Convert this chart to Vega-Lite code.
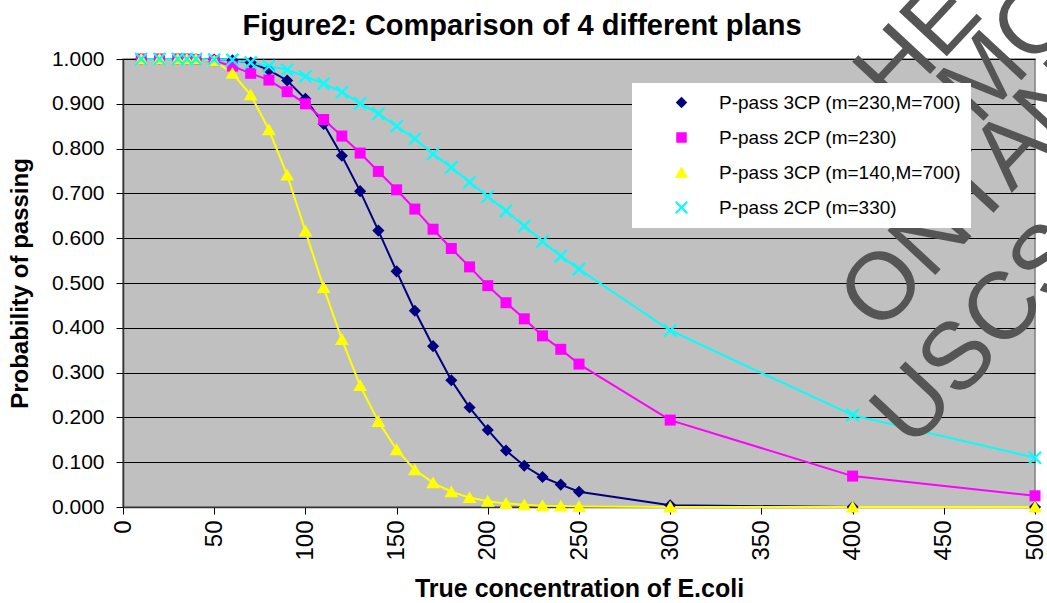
{
  "$schema": "https://vega.github.io/schema/vega-lite/v6.json",
  "width": 912,
  "height": 448,
  "autosize": {"type": "none"},
  "padding": {"left": 123, "top": 59, "right": 12, "bottom": 96},
  "background": "#ffffff",
  "title": {"text": "Figure2: Comparison of 4 different plans", "fontSize": 29, "fontWeight": "bold", "font": "Liberation Sans", "color": "#000000", "anchor": "middle", "dx": -57, "offset": -135},
  "config": {
    "font": "Liberation Sans",
    "view": {"fill": "#C0C0C0", "stroke": "#808080", "strokeWidth": 1.5},
    "axis": {"labelColor": "#000000", "titleColor": "#000000", "tickColor": "#000000", "domainColor": "#333333", "domainWidth": 1.5, "labelFont": "Liberation Sans", "titleFont": "Liberation Sans", "titleFontWeight": "bold", "labelFlush": false, "labelOverlap": false}
  },
  "layer": [
    {
      "data": {"values": [
        {"c":10,"p":1.000,"s":"P-pass 3CP (m=230,M=700)"},{"c":20,"p":1.000,"s":"P-pass 3CP (m=230,M=700)"},{"c":30,"p":1.000,"s":"P-pass 3CP (m=230,M=700)"},{"c":35,"p":1.000,"s":"P-pass 3CP (m=230,M=700)"},{"c":40,"p":1.000,"s":"P-pass 3CP (m=230,M=700)"},{"c":50,"p":0.999,"s":"P-pass 3CP (m=230,M=700)"},{"c":60,"p":0.997,"s":"P-pass 3CP (m=230,M=700)"},{"c":70,"p":0.992,"s":"P-pass 3CP (m=230,M=700)"},{"c":80,"p":0.975,"s":"P-pass 3CP (m=230,M=700)"},{"c":90,"p":0.952,"s":"P-pass 3CP (m=230,M=700)"},{"c":100,"p":0.911,"s":"P-pass 3CP (m=230,M=700)"},{"c":110,"p":0.855,"s":"P-pass 3CP (m=230,M=700)"},{"c":120,"p":0.784,"s":"P-pass 3CP (m=230,M=700)"},{"c":130,"p":0.705,"s":"P-pass 3CP (m=230,M=700)"},{"c":140,"p":0.617,"s":"P-pass 3CP (m=230,M=700)"},{"c":150,"p":0.526,"s":"P-pass 3CP (m=230,M=700)"},{"c":160,"p":0.438,"s":"P-pass 3CP (m=230,M=700)"},{"c":170,"p":0.359,"s":"P-pass 3CP (m=230,M=700)"},{"c":180,"p":0.283,"s":"P-pass 3CP (m=230,M=700)"},{"c":190,"p":0.222,"s":"P-pass 3CP (m=230,M=700)"},{"c":200,"p":0.172,"s":"P-pass 3CP (m=230,M=700)"},{"c":210,"p":0.126,"s":"P-pass 3CP (m=230,M=700)"},{"c":220,"p":0.092,"s":"P-pass 3CP (m=230,M=700)"},{"c":230,"p":0.067,"s":"P-pass 3CP (m=230,M=700)"},{"c":240,"p":0.050,"s":"P-pass 3CP (m=230,M=700)"},{"c":250,"p":0.034,"s":"P-pass 3CP (m=230,M=700)"},{"c":300,"p":0.004,"s":"P-pass 3CP (m=230,M=700)"},{"c":400,"p":0.000,"s":"P-pass 3CP (m=230,M=700)"},{"c":500,"p":0.000,"s":"P-pass 3CP (m=230,M=700)"},
        {"c":10,"p":1.000,"s":"P-pass 2CP (m=230)"},{"c":20,"p":1.000,"s":"P-pass 2CP (m=230)"},{"c":30,"p":1.000,"s":"P-pass 2CP (m=230)"},{"c":35,"p":1.000,"s":"P-pass 2CP (m=230)"},{"c":40,"p":0.999,"s":"P-pass 2CP (m=230)"},{"c":50,"p":0.996,"s":"P-pass 2CP (m=230)"},{"c":60,"p":0.984,"s":"P-pass 2CP (m=230)"},{"c":70,"p":0.968,"s":"P-pass 2CP (m=230)"},{"c":80,"p":0.953,"s":"P-pass 2CP (m=230)"},{"c":90,"p":0.927,"s":"P-pass 2CP (m=230)"},{"c":100,"p":0.900,"s":"P-pass 2CP (m=230)"},{"c":110,"p":0.865,"s":"P-pass 2CP (m=230)"},{"c":120,"p":0.828,"s":"P-pass 2CP (m=230)"},{"c":130,"p":0.790,"s":"P-pass 2CP (m=230)"},{"c":140,"p":0.749,"s":"P-pass 2CP (m=230)"},{"c":150,"p":0.708,"s":"P-pass 2CP (m=230)"},{"c":160,"p":0.665,"s":"P-pass 2CP (m=230)"},{"c":170,"p":0.620,"s":"P-pass 2CP (m=230)"},{"c":180,"p":0.577,"s":"P-pass 2CP (m=230)"},{"c":190,"p":0.536,"s":"P-pass 2CP (m=230)"},{"c":200,"p":0.494,"s":"P-pass 2CP (m=230)"},{"c":210,"p":0.456,"s":"P-pass 2CP (m=230)"},{"c":220,"p":0.420,"s":"P-pass 2CP (m=230)"},{"c":230,"p":0.382,"s":"P-pass 2CP (m=230)"},{"c":240,"p":0.352,"s":"P-pass 2CP (m=230)"},{"c":250,"p":0.319,"s":"P-pass 2CP (m=230)"},{"c":300,"p":0.194,"s":"P-pass 2CP (m=230)"},{"c":400,"p":0.069,"s":"P-pass 2CP (m=230)"},{"c":500,"p":0.025,"s":"P-pass 2CP (m=230)"},
        {"c":10,"p":1.000,"s":"P-pass 3CP (m=140,M=700)"},{"c":20,"p":1.000,"s":"P-pass 3CP (m=140,M=700)"},{"c":30,"p":1.000,"s":"P-pass 3CP (m=140,M=700)"},{"c":35,"p":1.000,"s":"P-pass 3CP (m=140,M=700)"},{"c":40,"p":1.000,"s":"P-pass 3CP (m=140,M=700)"},{"c":50,"p":0.996,"s":"P-pass 3CP (m=140,M=700)"},{"c":60,"p":0.968,"s":"P-pass 3CP (m=140,M=700)"},{"c":70,"p":0.920,"s":"P-pass 3CP (m=140,M=700)"},{"c":80,"p":0.842,"s":"P-pass 3CP (m=140,M=700)"},{"c":90,"p":0.741,"s":"P-pass 3CP (m=140,M=700)"},{"c":100,"p":0.616,"s":"P-pass 3CP (m=140,M=700)"},{"c":110,"p":0.490,"s":"P-pass 3CP (m=140,M=700)"},{"c":120,"p":0.374,"s":"P-pass 3CP (m=140,M=700)"},{"c":130,"p":0.271,"s":"P-pass 3CP (m=140,M=700)"},{"c":140,"p":0.191,"s":"P-pass 3CP (m=140,M=700)"},{"c":150,"p":0.128,"s":"P-pass 3CP (m=140,M=700)"},{"c":160,"p":0.083,"s":"P-pass 3CP (m=140,M=700)"},{"c":170,"p":0.054,"s":"P-pass 3CP (m=140,M=700)"},{"c":180,"p":0.034,"s":"P-pass 3CP (m=140,M=700)"},{"c":190,"p":0.021,"s":"P-pass 3CP (m=140,M=700)"},{"c":200,"p":0.013,"s":"P-pass 3CP (m=140,M=700)"},{"c":210,"p":0.008,"s":"P-pass 3CP (m=140,M=700)"},{"c":220,"p":0.005,"s":"P-pass 3CP (m=140,M=700)"},{"c":230,"p":0.003,"s":"P-pass 3CP (m=140,M=700)"},{"c":240,"p":0.002,"s":"P-pass 3CP (m=140,M=700)"},{"c":250,"p":0.001,"s":"P-pass 3CP (m=140,M=700)"},{"c":300,"p":0.000,"s":"P-pass 3CP (m=140,M=700)"},{"c":400,"p":0.000,"s":"P-pass 3CP (m=140,M=700)"},{"c":500,"p":0.000,"s":"P-pass 3CP (m=140,M=700)"},
        {"c":10,"p":1.000,"s":"P-pass 2CP (m=330)"},{"c":20,"p":1.000,"s":"P-pass 2CP (m=330)"},{"c":30,"p":1.000,"s":"P-pass 2CP (m=330)"},{"c":35,"p":1.000,"s":"P-pass 2CP (m=330)"},{"c":40,"p":1.000,"s":"P-pass 2CP (m=330)"},{"c":50,"p":0.999,"s":"P-pass 2CP (m=330)"},{"c":60,"p":0.998,"s":"P-pass 2CP (m=330)"},{"c":70,"p":0.992,"s":"P-pass 2CP (m=330)"},{"c":80,"p":0.984,"s":"P-pass 2CP (m=330)"},{"c":90,"p":0.976,"s":"P-pass 2CP (m=330)"},{"c":100,"p":0.961,"s":"P-pass 2CP (m=330)"},{"c":110,"p":0.945,"s":"P-pass 2CP (m=330)"},{"c":120,"p":0.926,"s":"P-pass 2CP (m=330)"},{"c":130,"p":0.901,"s":"P-pass 2CP (m=330)"},{"c":140,"p":0.878,"s":"P-pass 2CP (m=330)"},{"c":150,"p":0.850,"s":"P-pass 2CP (m=330)"},{"c":160,"p":0.822,"s":"P-pass 2CP (m=330)"},{"c":170,"p":0.788,"s":"P-pass 2CP (m=330)"},{"c":180,"p":0.758,"s":"P-pass 2CP (m=330)"},{"c":190,"p":0.725,"s":"P-pass 2CP (m=330)"},{"c":200,"p":0.693,"s":"P-pass 2CP (m=330)"},{"c":210,"p":0.661,"s":"P-pass 2CP (m=330)"},{"c":220,"p":0.627,"s":"P-pass 2CP (m=330)"},{"c":230,"p":0.593,"s":"P-pass 2CP (m=330)"},{"c":240,"p":0.560,"s":"P-pass 2CP (m=330)"},{"c":250,"p":0.531,"s":"P-pass 2CP (m=330)"},{"c":300,"p":0.394,"s":"P-pass 2CP (m=330)"},{"c":400,"p":0.205,"s":"P-pass 2CP (m=330)"},{"c":500,"p":0.110,"s":"P-pass 2CP (m=330)"}
      ]},
      "encoding": {
        "x": {"field": "c", "type": "quantitative", "scale": {"domain": [0, 500], "nice": false},
          "axis": {"title": "True concentration of E.coli", "titleFontSize": 25, "titlePadding": 16, "values": [0,50,100,150,200,250,300,350,400,450,500], "labelAngle": -90, "labelFontSize": 24, "labelPadding": 6, "tickSize": 7, "grid": false}},
        "y": {"field": "p", "type": "quantitative", "scale": {"domain": [0, 1], "nice": false},
          "axis": {"title": "Probability of passing", "titleFontSize": 24, "titlePadding": 19, "values": [0,0.1,0.2,0.3,0.4,0.5,0.6,0.7,0.8,0.9,1], "format": ".3f", "labelFontSize": 21, "labelPadding": 12, "tickSize": 7, "grid": true, "gridColor": "#000000", "gridOpacity": 1, "gridWidth": 1}}
      },
      "layer": [
        {
          "mark": {"type": "line", "strokeWidth": 2, "clip": false},
          "encoding": {
            "stroke": {"field": "s", "type": "nominal", "legend": null,
              "scale": {"range": ["#FF00FF", "#00FFFF", "#FFFF00", "#000080"]}}
          }
        },
        {
          "mark": {"type": "point", "filled": true, "opacity": 1, "size": 121, "clip": false},
          "encoding": {
            "shape": {"field": "s", "type": "nominal",
              "scale": {"domain": ["P-pass 3CP (m=230,M=700)", "P-pass 2CP (m=230)", "P-pass 3CP (m=140,M=700)", "P-pass 2CP (m=330)"],
                "range": ["M0,-1.1L1.1,0L0,1.1L-1.1,0Z", "M-1,-1L1,-1L1,1L-1,1Z", "M0,-1.15L1.25,1L-1.25,1Z", "M0,0.283L-0.955,1.237L-1.237,0.955L-0.283,0L-1.237,-0.955L-0.955,-1.237L0,-0.283L0.955,-1.237L1.237,-0.955L0.283,0L1.237,0.955L0.955,1.237Z"]}},
            "color": {"field": "s", "type": "nominal",
              "legend": {
                "title": null, "orient": "none", "legendX": 509, "legendY": 24,
                "fillColor": "#ffffff", "padding": 10,
                "labelFontSize": 19, "labelColor": "#000000", "labelFont": "Liberation Sans", "labelLimit": 400,
                "symbolSize": 110, "symbolOffset": 30, "labelOffset": 28, "rowPadding": 15,
                "symbolStrokeWidth": 0,
                "labelExpr": "datum.label + '\u00a0\u00a0\u00a0'"
              },
              "scale": {"domain": ["P-pass 3CP (m=230,M=700)", "P-pass 2CP (m=230)", "P-pass 3CP (m=140,M=700)", "P-pass 2CP (m=330)"],
                "range": ["#000080", "#FF00FF", "#FFFF00", "#00FFFF"]}}
          }
        }
      ]
    },
    {
      "data": {"values": [
        {"t": "HE L", "c": 451, "p": 1.098},
        {"t": "R MON", "c": 481, "p": 0.997},
        {"t": "ONTAN", "c": 464, "p": 0.694},
        {"t": "USCS", "c": 470, "p": 0.385}
      ]},
      "mark": {"type": "text", "angle": 313, "fontSize": 95, "font": "Liberation Sans", "color": "#555555", "align": "center", "baseline": "middle", "clip": false},
      "encoding": {
        "x": {"field": "c", "type": "quantitative", "scale": {"domain": [0, 500], "nice": false}},
        "y": {"field": "p", "type": "quantitative", "scale": {"domain": [0, 1], "nice": false}},
        "text": {"field": "t"}
      }
    }
  ]
}
